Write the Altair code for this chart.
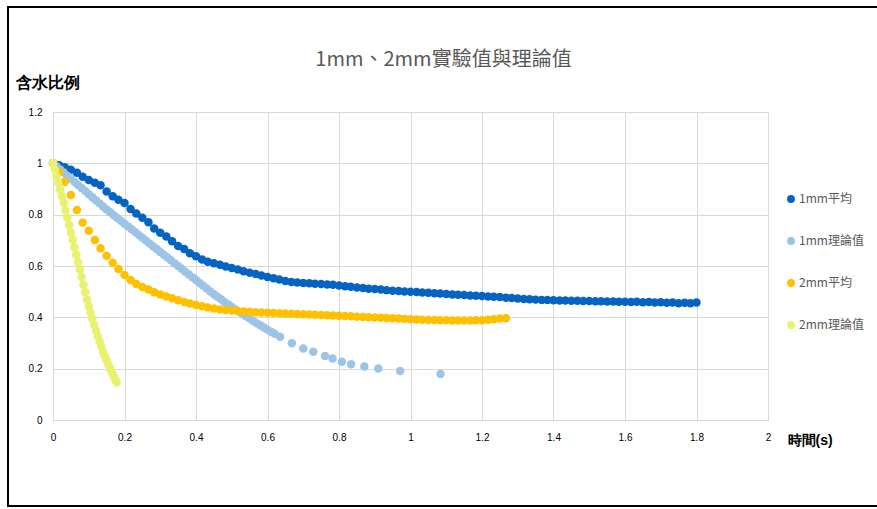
import altair as alt
import pandas as pd

TITLE = "1mm、2mm實驗值與理論值"
Y_TITLE = "含水比例"
X_TITLE = "時間(s)"
SERIES = ["1mm平均", "1mm理論值", "2mm平均", "2mm理論值"]
COLORS = ["#0563C1", "#9DC3E6", "#FFC000", "#E9F26D"]
X_TICKS = [0, 0.2, 0.4, 0.6, 0.8, 1.0, 1.2, 1.4, 1.6, 1.8, 2.0]
Y_TICKS = [0, 0.2, 0.4, 0.6, 0.8, 1.0, 1.2]
FONT = "Noto Sans CJK TC"

# frame times of the measured series (s)
FRAME_TIMES = [
    0.000, 0.017, 0.033, 0.050, 0.067, 0.083,
    0.100, 0.117, 0.133, 0.150, 0.167, 0.183,
    0.200, 0.217, 0.233, 0.250, 0.267, 0.283,
    0.300, 0.317, 0.333, 0.350, 0.367, 0.383,
    0.400, 0.417, 0.433, 0.450, 0.467, 0.483,
    0.500, 0.517, 0.533, 0.550, 0.567, 0.583,
    0.600, 0.617, 0.633, 0.650, 0.667, 0.683,
    0.700, 0.717, 0.733, 0.750, 0.767, 0.783,
    0.800, 0.817, 0.833, 0.850, 0.867, 0.883,
    0.900, 0.917, 0.933, 0.950, 0.967, 0.983,
    1.000, 1.017, 1.033, 1.050, 1.067, 1.083,
    1.100, 1.117, 1.133, 1.150, 1.167, 1.183,
    1.200, 1.217, 1.233, 1.250, 1.267, 1.283,
    1.300, 1.317, 1.333, 1.350, 1.367, 1.383,
    1.400, 1.417, 1.433, 1.450, 1.467, 1.483,
    1.500, 1.517, 1.533, 1.550, 1.567, 1.583,
    1.600, 1.617, 1.633, 1.650, 1.667, 1.683,
    1.700, 1.717, 1.733, 1.750, 1.767, 1.783,
    1.800,
]

v_1mm_avg = [
    1.000, 0.993, 0.985, 0.975, 0.963, 0.948,
    0.935, 0.924, 0.915, 0.890, 0.872, 0.858,
    0.845, 0.822, 0.805, 0.788, 0.770, 0.746,
    0.730, 0.715, 0.696, 0.678, 0.666, 0.650,
    0.638, 0.625, 0.617, 0.611, 0.605, 0.598,
    0.592, 0.586, 0.580, 0.574, 0.569, 0.563,
    0.557, 0.552, 0.547, 0.542, 0.538, 0.536,
    0.534, 0.533, 0.531, 0.530, 0.528, 0.527,
    0.524, 0.521, 0.519, 0.516, 0.514, 0.511,
    0.510, 0.508, 0.506, 0.504, 0.503, 0.501,
    0.500, 0.499, 0.497, 0.496, 0.494, 0.493,
    0.491, 0.489, 0.488, 0.487, 0.485, 0.484,
    0.483, 0.481, 0.480, 0.479, 0.476, 0.475,
    0.473, 0.471, 0.470, 0.469, 0.468, 0.468,
    0.467, 0.466, 0.466, 0.465, 0.465, 0.464,
    0.464, 0.463, 0.463, 0.462, 0.462, 0.461,
    0.461, 0.460, 0.461, 0.459, 0.460, 0.458,
    0.459, 0.457, 0.458, 0.455, 0.457, 0.455,
    0.458,
]

t_2mm_avg = FRAME_TIMES[:77]
v_2mm_avg = [
    1.000, 0.967, 0.928, 0.877, 0.818, 0.769,
    0.737, 0.701, 0.669, 0.640, 0.613, 0.588,
    0.565, 0.545, 0.530, 0.518, 0.508, 0.498,
    0.489, 0.481, 0.474, 0.467, 0.460, 0.454,
    0.448, 0.443, 0.438, 0.434, 0.431, 0.429,
    0.427, 0.425, 0.423, 0.422, 0.420, 0.419,
    0.418, 0.417, 0.416, 0.415, 0.414, 0.413,
    0.412, 0.411, 0.410, 0.409, 0.408, 0.407,
    0.406, 0.405, 0.404, 0.402, 0.401, 0.400,
    0.399, 0.398, 0.397, 0.396, 0.395, 0.394,
    0.393, 0.392, 0.391, 0.390, 0.390, 0.389,
    0.389, 0.388, 0.388, 0.388, 0.388, 0.389,
    0.389, 0.391, 0.393, 0.395, 0.396,
]

t_1mm_theory = [
    0.00, 0.01, 0.02, 0.03, 0.04, 0.05, 0.06, 0.07, 0.08, 0.09,
    0.10, 0.11, 0.12, 0.13, 0.14, 0.15, 0.16, 0.17, 0.18, 0.19,
    0.20, 0.21, 0.22, 0.23, 0.24, 0.25, 0.26, 0.27, 0.28, 0.29,
    0.30, 0.31, 0.32, 0.33, 0.34, 0.35, 0.36, 0.37, 0.38, 0.39,
    0.40, 0.41, 0.42, 0.43, 0.44, 0.45, 0.46, 0.47, 0.48, 0.49,
    0.50, 0.51, 0.52, 0.53, 0.54, 0.55, 0.56, 0.57, 0.58, 0.59,
    0.60, 0.61, 0.62,
    0.635, 0.668, 0.700, 0.728, 0.761, 0.782, 0.808, 0.834, 0.871,
    0.910, 0.971, 1.084,
]
v_1mm_theory = [
    1.000, 0.988, 0.976, 0.964, 0.952, 0.940, 0.928, 0.916, 0.904, 0.892,
    0.880, 0.868, 0.856, 0.844, 0.832, 0.820, 0.809, 0.798, 0.787, 0.776,
    0.765, 0.754, 0.743, 0.732, 0.721, 0.710, 0.699, 0.688, 0.677, 0.666,
    0.655, 0.644, 0.633, 0.622, 0.611, 0.600, 0.589, 0.578, 0.567, 0.556,
    0.545, 0.534, 0.523, 0.512, 0.501, 0.490, 0.480, 0.470, 0.460, 0.450,
    0.440, 0.431, 0.422, 0.413, 0.404, 0.395, 0.386, 0.377, 0.369, 0.360,
    0.352, 0.344, 0.336,
    0.324, 0.299, 0.279, 0.266, 0.249, 0.240, 0.227, 0.217, 0.208,
    0.201, 0.191, 0.179,
]

t_2mm_theory = [
    0.000, 0.005, 0.010, 0.015, 0.020, 0.025, 0.030, 0.035, 0.040, 0.045,
    0.050, 0.055, 0.060, 0.065, 0.070, 0.075, 0.080, 0.085, 0.090, 0.095,
    0.100, 0.105, 0.110, 0.115, 0.120, 0.125, 0.130, 0.135, 0.140, 0.145,
    0.150, 0.155, 0.160, 0.165, 0.170, 0.175, 0.178,
]
v_2mm_theory = [
    1.000, 0.975, 0.949, 0.923, 0.898, 0.872, 0.846, 0.817, 0.789, 0.760,
    0.731, 0.702, 0.673, 0.644, 0.615, 0.586, 0.557, 0.527, 0.498, 0.469,
    0.443, 0.418, 0.394, 0.371, 0.349, 0.327, 0.306, 0.285, 0.265, 0.248,
    0.232, 0.216, 0.200, 0.185, 0.170, 0.155, 0.146,
]

rows = []
for name, ts, vs in [
    (SERIES[0], FRAME_TIMES, v_1mm_avg),
    (SERIES[1], t_1mm_theory, v_1mm_theory),
    (SERIES[2], t_2mm_avg, v_2mm_avg),
    (SERIES[3], t_2mm_theory, v_2mm_theory),
]:
    for t, v in zip(ts, vs):
        rows.append({"series": name, "t": t, "v": v})
df = pd.DataFrame(rows)
df["idx"] = range(len(df))

points = alt.Chart(df).mark_circle(size=72, opacity=1).encode(
    x=alt.X(
        "t:Q",
        scale=alt.Scale(domain=[0, 2], nice=False, zero=False),
        axis=alt.Axis(
            values=X_TICKS, format=".1~f", title=X_TITLE,
            grid=True, gridColor="#D9D9D9", domainColor="#D9D9D9",
            ticks=False, labelPadding=12, labelFlush=False,
            titleX=734, titleY=20, titleAlign="left", titleBaseline="middle",
            titleAngle=0, titleFontSize=14,
        ),
    ),
    y=alt.Y(
        "v:Q",
        scale=alt.Scale(domain=[0, 1.2], nice=False),
        axis=alt.Axis(
            values=Y_TICKS, format=".1~f", title=Y_TITLE,
            grid=True, gridColor="#D9D9D9", domain=False,
            ticks=False, labelPadding=11,
            titleAngle=0, titleX=-38, titleY=-25, titleFontSize=16,
            titleAlign="left", titleBaseline="alphabetic",
        ),
    ),
    color=alt.Color(
        "series:N",
        scale=alt.Scale(domain=SERIES, range=COLORS),
        legend=alt.Legend(
            title=None, orient="none", legendX=732, legendY=81,
            symbolType="circle", symbolSize=62, symbolOpacity=1,
            labelFontSize=12, labelColor="#595959", labelFont=FONT,
            rowPadding=30, labelOffset=2, padding=0,
        ),
    ),
    order=alt.Order("idx:Q"),
)

frame = alt.Chart(pd.DataFrame({"k": [0]})).mark_rect(
    fillOpacity=0, stroke="black", strokeWidth=2
).encode(
    x=alt.value(-45), x2=alt.value(830), y=alt.value(-105), y2=alt.value(394)
)

chart = alt.layer(frame, points).properties(
    width=715,
    height=308,
    autosize="none",
    padding={"left": 53, "top": 112, "right": 109, "bottom": 89},
    title=alt.TitleParams(
        TITLE, fontSize=20, fontWeight="normal", color="#595959", font=FONT,
        anchor="middle", frame="group", dx=33, offset=-64,
    ),
).configure_view(stroke=None).configure_axis(
    labelFont=FONT, labelFontSize=12, labelColor="#595959",
    titleFont=FONT, titleFontWeight="bold", titleColor="#000000",
).configure(background="white")

chart.save("out.html", embed_options={"renderer": "svg", "actions": False})
